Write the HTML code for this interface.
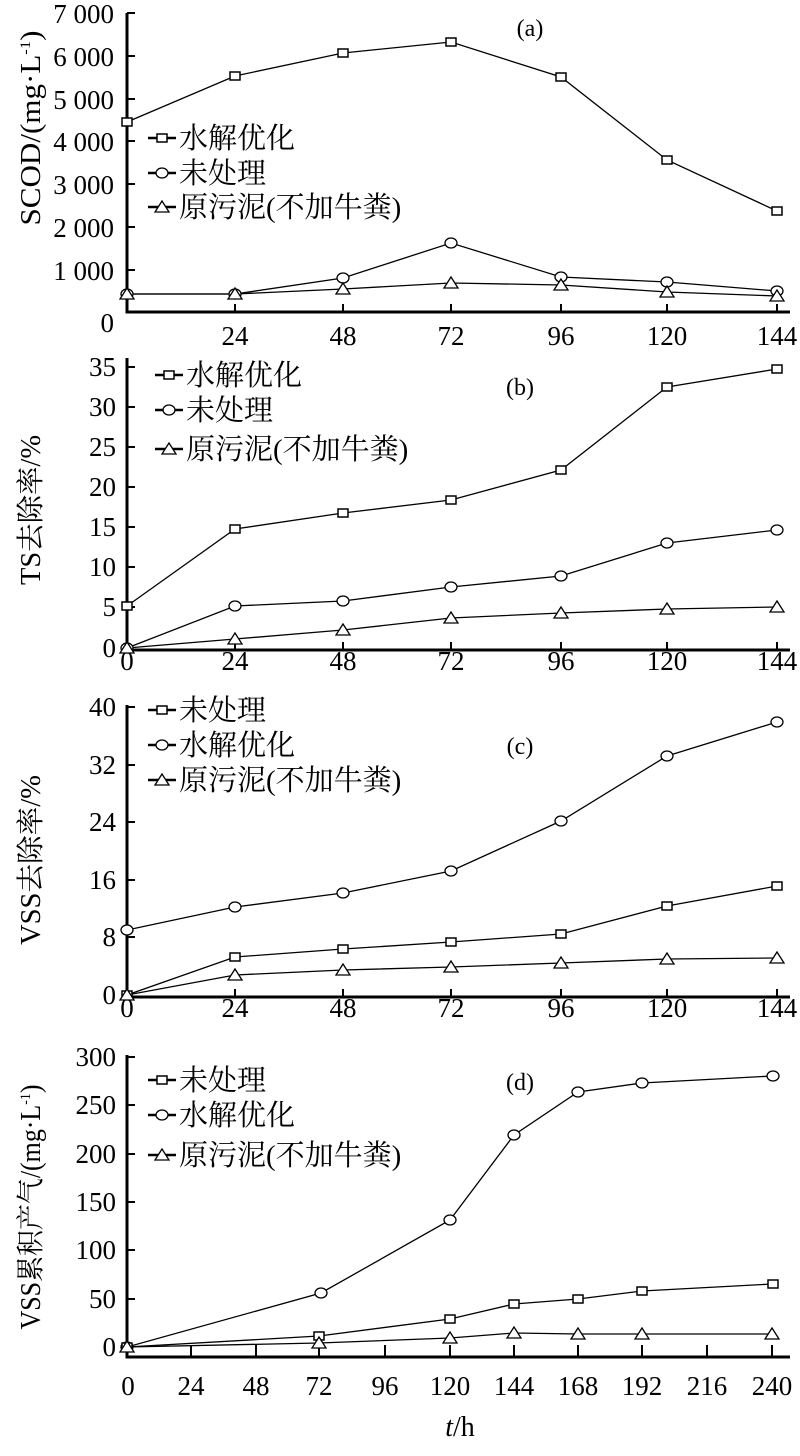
<!DOCTYPE html>
<html><head><meta charset="utf-8"><style>
html,body{margin:0;padding:0;background:#fff;}
text{font-family:"Liberation Serif","Noto Serif CJK SC",serif;fill:#000;}
.cj{font-family:"Liberation Sans","Noto Sans CJK SC",sans-serif;}
</style></head><body>
<svg width="800" height="1451" xmlns="http://www.w3.org/2000/svg">
<defs>
<g id="sq"><rect x="-5" y="-4" width="10" height="8" fill="#fff" stroke="#000" stroke-width="1.5"/></g>
<g id="ci"><ellipse cx="0" cy="0" rx="6" ry="5" fill="#fff" stroke="#000" stroke-width="1.3"/></g>
<g id="tr"><polygon points="-7,5 7,5 0,-6" fill="#fff" stroke="#000" stroke-width="1.3"/></g>
</defs>
<g stroke="#000" stroke-width="3" fill="none">
<path d="M127,13 V312 H790"/>
<path d="M127,358 V650 H790"/>
<path d="M127,705 V997 H790"/>
<path d="M127,1055 V1357 H790"/>
</g>
<g stroke="#000" stroke-width="2">
<path d="M127,13h8M127,56h8M127,99h8M127,141h8M127,184h8M127,227h8M127,270h8"/>
<path d="M235,312v-8M343,312v-8M451,312v-8M561,312v-8M667,312v-8M777,312v-8"/>
<path d="M127,367h8M127,407h8M127,447h8M127,487h8M127,527h8M127,567h8M127,607h8"/>
<path d="M235,650v-8M343,650v-8M451,650v-8M561,650v-8M667,650v-8M777,650v-8"/>
<path d="M127,707h8M127,765h8M127,822h8M127,880h8M127,937h8"/>
<path d="M235,997v-8M343,997v-8M451,997v-8M561,997v-8M667,997v-8M777,997v-8"/>
<path d="M127,1057h8M127,1105h8M127,1154h8M127,1202h8M127,1250h8M127,1299h8"/>
<path d="M191,1357v-12M256,1357v-12M319,1357v-12M385,1357v-12M450,1357v-12M514,1357v-12M578,1357v-12M642,1357v-12M707,1357v-12M772,1357v-12"/>
</g>
<g font-size="27" text-anchor="end">
<text x="114" y="23">7 000</text><text x="114" y="66">6 000</text><text x="114" y="109">5 000</text><text x="114" y="151">4 000</text><text x="114" y="194">3 000</text><text x="114" y="237">2 000</text><text x="114" y="280">1 000</text><text x="114" y="332">0</text>
<text x="116" y="376">35</text><text x="116" y="416">30</text><text x="116" y="456">25</text><text x="116" y="496">20</text><text x="116" y="536">15</text><text x="116" y="576">10</text><text x="116" y="616">5</text><text x="116" y="657">0</text>
<text x="116" y="716">40</text><text x="116" y="774">32</text><text x="116" y="831">24</text><text x="116" y="889">16</text><text x="116" y="946">8</text><text x="116" y="1004">0</text>
<text x="116" y="1066">300</text><text x="116" y="1114">250</text><text x="116" y="1163">200</text><text x="116" y="1211">150</text><text x="116" y="1259">100</text><text x="116" y="1308">50</text><text x="116" y="1356">0</text>
</g>
<g font-size="27" text-anchor="middle">
<text x="235" y="345">24</text><text x="343" y="345">48</text><text x="451" y="345">72</text><text x="561" y="345">96</text><text x="667" y="345">120</text><text x="777" y="345">144</text>
<text x="127" y="670">0</text><text x="235" y="670">24</text><text x="343" y="670">48</text><text x="451" y="670">72</text><text x="561" y="670">96</text><text x="667" y="670">120</text><text x="777" y="670">144</text>
<text x="127" y="1017">0</text><text x="235" y="1017">24</text><text x="343" y="1017">48</text><text x="451" y="1017">72</text><text x="561" y="1017">96</text><text x="667" y="1017">120</text><text x="777" y="1017">144</text>
<text x="128" y="1395">0</text><text x="191" y="1395">24</text><text x="256" y="1395">48</text><text x="319" y="1395">72</text><text x="385" y="1395">96</text><text x="450" y="1395">120</text><text x="514" y="1395">144</text><text x="578" y="1395">168</text><text x="642" y="1395">192</text><text x="707" y="1395">216</text><text x="772" y="1395">240</text>
<text x="460" y="1436" font-size="28"><tspan font-style="italic">t</tspan>/h</text>
<text x="530" y="36" font-size="24">(a)</text>
<text x="520" y="395" font-size="24">(b)</text>
<text x="520" y="754" font-size="24">(c)</text>
<text x="520" y="1090" font-size="24">(d)</text>
</g>
<g font-size="28" text-anchor="middle">
<text transform="translate(40,128) rotate(-90)" textLength="195" lengthAdjust="spacingAndGlyphs">SCOD/(mg·L<tspan font-size="15" dy="-10">-1</tspan><tspan dy="10">)</tspan></text>
<text transform="translate(40,510) rotate(-90)" textLength="150" lengthAdjust="spacingAndGlyphs">TS去除率/%</text>
<text transform="translate(40,860) rotate(-90)" textLength="170" lengthAdjust="spacingAndGlyphs">VSS去除率/%</text>
<text transform="translate(40,1207) rotate(-90)" textLength="245" lengthAdjust="spacingAndGlyphs">VSS累积产气/(mg·L<tspan font-size="15" dy="-10">-1</tspan><tspan dy="10">)</tspan></text>
</g>
<g fill="none" stroke="#000" stroke-width="1.3">
<polyline points="127,122 235,76 343,53 451,42 561,77 667,160 777,211"/>
<polyline points="127,294 235,294 343,278 451,243 561,277 667,282 777,291"/>
<polyline points="127,294 235,294 343,289 451,283 561,285 667,292 777,296"/>
<polyline points="127,606 235,529 343,513 451,500 561,470 667,387 777,369"/>
<polyline points="127,648 235,606 343,601 451,587 561,576 667,543 777,530"/>
<polyline points="127,648 235,639 343,630 451,618 561,613 667,609 777,607"/>
<polyline points="127,930 235,907 343,893 451,871 561,821 667,756 777,722"/>
<polyline points="127,995 235,957 343,949 451,942 561,934 667,906 777,886"/>
<polyline points="127,995 235,975 343,970 451,967 561,963 667,959 777,958"/>
<polyline points="127,1347 321,1293 450,1220 514,1135 578,1092 642,1083 773,1076"/>
<polyline points="127,1347 319,1336 450,1319 514,1304 578,1299 642,1291 773,1284"/>
<polyline points="127,1347 319,1343 450,1338 514,1333 578,1334 642,1334 772,1334"/>
<path d="M148,138h28M148,173h28M148,207h28M155,375h28M155,410h28M155,449h28M148,710h28M148,745h28M148,780h28M148,1080h28M148,1115h28M148,1155h28" stroke-width="2.5"/>
</g>
<g>
<use href="#sq" x="127" y="122"/><use href="#sq" x="235" y="76"/><use href="#sq" x="343" y="53"/><use href="#sq" x="451" y="42"/><use href="#sq" x="561" y="77"/><use href="#sq" x="667" y="160"/><use href="#sq" x="777" y="211"/>
<use href="#ci" x="127" y="294"/><use href="#ci" x="235" y="294"/><use href="#ci" x="343" y="278"/><use href="#ci" x="451" y="243"/><use href="#ci" x="561" y="277"/><use href="#ci" x="667" y="282"/><use href="#ci" x="777" y="291"/>
<use href="#tr" x="127" y="294"/><use href="#tr" x="235" y="294"/><use href="#tr" x="343" y="289"/><use href="#tr" x="451" y="283"/><use href="#tr" x="561" y="285"/><use href="#tr" x="667" y="292"/><use href="#tr" x="777" y="296"/>
<use href="#sq" x="127" y="606"/><use href="#sq" x="235" y="529"/><use href="#sq" x="343" y="513"/><use href="#sq" x="451" y="500"/><use href="#sq" x="561" y="470"/><use href="#sq" x="667" y="387"/><use href="#sq" x="777" y="369"/>
<use href="#ci" x="127" y="648"/><use href="#ci" x="235" y="606"/><use href="#ci" x="343" y="601"/><use href="#ci" x="451" y="587"/><use href="#ci" x="561" y="576"/><use href="#ci" x="667" y="543"/><use href="#ci" x="777" y="530"/>
<use href="#tr" x="127" y="648"/><use href="#tr" x="235" y="639"/><use href="#tr" x="343" y="630"/><use href="#tr" x="451" y="618"/><use href="#tr" x="561" y="613"/><use href="#tr" x="667" y="609"/><use href="#tr" x="777" y="607"/>
<use href="#ci" x="127" y="930"/><use href="#ci" x="235" y="907"/><use href="#ci" x="343" y="893"/><use href="#ci" x="451" y="871"/><use href="#ci" x="561" y="821"/><use href="#ci" x="667" y="756"/><use href="#ci" x="777" y="722"/>
<use href="#sq" x="127" y="995"/><use href="#sq" x="235" y="957"/><use href="#sq" x="343" y="949"/><use href="#sq" x="451" y="942"/><use href="#sq" x="561" y="934"/><use href="#sq" x="667" y="906"/><use href="#sq" x="777" y="886"/>
<use href="#tr" x="127" y="995"/><use href="#tr" x="235" y="975"/><use href="#tr" x="343" y="970"/><use href="#tr" x="451" y="967"/><use href="#tr" x="561" y="963"/><use href="#tr" x="667" y="959"/><use href="#tr" x="777" y="958"/>
<use href="#ci" x="127" y="1347"/><use href="#ci" x="321" y="1293"/><use href="#ci" x="450" y="1220"/><use href="#ci" x="514" y="1135"/><use href="#ci" x="578" y="1092"/><use href="#ci" x="642" y="1083"/><use href="#ci" x="773" y="1076"/>
<use href="#sq" x="127" y="1347"/><use href="#sq" x="319" y="1336"/><use href="#sq" x="450" y="1319"/><use href="#sq" x="514" y="1304"/><use href="#sq" x="578" y="1299"/><use href="#sq" x="642" y="1291"/><use href="#sq" x="773" y="1284"/>
<use href="#tr" x="127" y="1347"/><use href="#tr" x="319" y="1343"/><use href="#tr" x="450" y="1338"/><use href="#tr" x="514" y="1333"/><use href="#tr" x="578" y="1334"/><use href="#tr" x="642" y="1334"/><use href="#tr" x="772" y="1334"/>
<use href="#sq" x="162" y="138"/><use href="#ci" x="162" y="173"/><use href="#tr" x="162" y="207"/>
<use href="#sq" x="169" y="375"/><use href="#ci" x="169" y="410"/><use href="#tr" x="169" y="449"/>
<use href="#sq" x="162" y="710"/><use href="#ci" x="162" y="745"/><use href="#tr" x="162" y="780"/>
<use href="#sq" x="162" y="1080"/><use href="#ci" x="162" y="1115"/><use href="#tr" x="162" y="1155"/>
</g>
<g font-size="29" class="cj">
<text x="179" y="148">水解优化</text><text x="179" y="183">未处理</text><text x="179" y="217">原污泥(不加牛粪)</text>
<text x="186" y="385">水解优化</text><text x="186" y="420">未处理</text><text x="186" y="459">原污泥(不加牛粪)</text>
<text x="179" y="720">未处理</text><text x="179" y="755">水解优化</text><text x="179" y="790">原污泥(不加牛粪)</text>
<text x="179" y="1090">未处理</text><text x="179" y="1125">水解优化</text><text x="179" y="1165">原污泥(不加牛粪)</text>
</g>
</svg>
</body></html>
